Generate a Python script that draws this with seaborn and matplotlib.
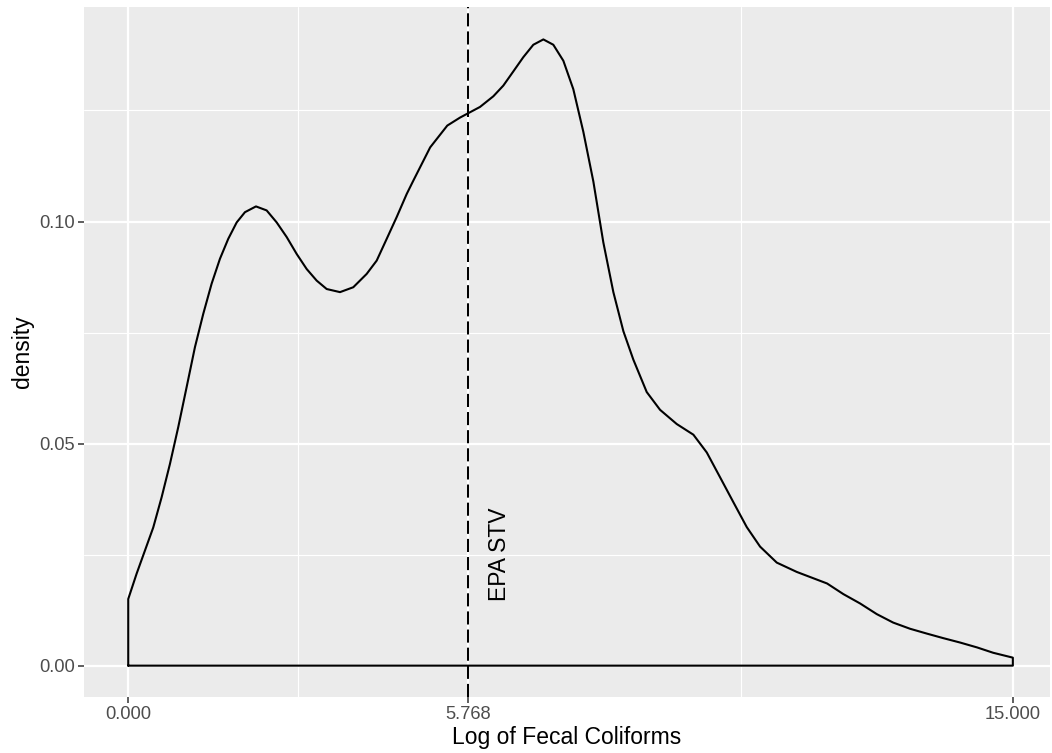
import pandas as pd
import matplotlib.pyplot as plt
from matplotlib.ticker import FixedLocator
import seaborn as sns

# density curve
log_fc = [0.000, 0.142, 0.283, 0.424, 0.566, 0.707, 0.848, 0.990, 1.131, 1.272,
          1.414, 1.555, 1.696, 1.839, 1.979, 2.166, 2.347, 2.517, 2.687, 2.856,
          3.026, 3.195, 3.365, 3.591, 3.816, 4.043, 4.213, 4.383, 4.552, 4.722,
          4.834, 5.120, 5.410, 5.626, 5.767, 5.965, 6.191, 6.360, 6.530, 6.699,
          6.869, 7.039, 7.208, 7.378, 7.547, 7.717, 7.887, 8.056, 8.226, 8.396,
          8.565, 8.792, 9.018, 9.301, 9.583, 9.810, 10.036, 10.261, 10.488, 10.714,
          10.997, 11.336, 11.850, 12.127, 12.410, 12.693, 12.970, 13.258, 13.546,
          13.818, 14.106, 14.394, 14.666, 15.000]
dens = [0.0150, 0.0207, 0.0259, 0.0311, 0.0379, 0.0454, 0.0537, 0.0627, 0.0717, 0.0792,
        0.0860, 0.0916, 0.0961, 0.0998, 0.1021, 0.1034, 0.1025, 0.0998, 0.0965, 0.0927,
        0.0893, 0.0867, 0.0848, 0.0841, 0.0852, 0.0882, 0.0912, 0.0961, 0.1010, 0.1062,
        0.1092, 0.1167, 0.1216, 0.1234, 0.1244, 0.1258, 0.1282, 0.1306, 0.1338, 0.1370,
        0.1398, 0.1410, 0.1398, 0.1362, 0.1298, 0.1202, 0.1090, 0.0953, 0.0841, 0.0753,
        0.0689, 0.0616, 0.0576, 0.0544, 0.0520, 0.0480, 0.0424, 0.0368, 0.0312, 0.0268,
        0.0232, 0.0211, 0.0185, 0.0161, 0.0140, 0.0116, 0.0097, 0.0083, 0.0072,
        0.0062, 0.0052, 0.0041, 0.0029, 0.0018]

epa_stv = 5.768
x_ticks = [0.0, 5.768, 15.0]
x_tick_labels = ["0.000", "5.768", "15.000"]
x_minor = [2.884, 10.384]
y_ticks = [0.00, 0.05, 0.10]
y_tick_labels = ["0.00", "0.05", "0.10"]
y_minor = [0.025, 0.075, 0.125]

sns.set_theme(style="darkgrid")
plt.rcParams['font.family'] = ['Liberation Sans', 'DejaVu Sans']

fig = plt.figure(figsize=(10.52, 7.53), dpi=100)
ax = fig.add_axes([84 / 1052, 1 - 697 / 753, (1050 - 84) / 1052, (697 - 7) / 753])
ax.set_facecolor("#EBEBEB")

# closed outline, the way geom_density draws it
outline = pd.DataFrame({
    "x": [log_fc[0]] + log_fc + [log_fc[-1], log_fc[0]],
    "y": [0.0] + dens + [0.0, 0.0],
})
sns.lineplot(data=outline, x="x", y="y", sort=False, estimator=None,
             color="black", lw=1.5, ax=ax, zorder=3,
             solid_joinstyle="round", solid_capstyle="round")

ax.axvline(epa_stv, color="black", lw=1.45, dashes=(6.5, 2.5), zorder=4)
ax.text(6.3, 0.025, "EPA STV", rotation=90, ha="center", va="center",
        fontsize=16.5, color="black")

ax.set_xlim(-0.75, 15.63)
ax.set_ylim(-0.00706, 0.1483)
ax.set_xticks(x_ticks)
ax.set_xticklabels(x_tick_labels)
ax.set_yticks(y_ticks)
ax.set_yticklabels(y_tick_labels)
ax.xaxis.set_minor_locator(FixedLocator(x_minor))
ax.yaxis.set_minor_locator(FixedLocator(y_minor))

ax.grid(which="major", color="white", lw=1.6)
ax.grid(which="minor", color="white", lw=0.8)
ax.set_axisbelow(True)
for s in ax.spines.values():
    s.set_visible(False)

ax.tick_params(which="major", length=4.1, width=1.1, color="#333333",
               labelcolor="#4D4D4D", labelsize=13.2, pad=2.5,
               bottom=True, left=True)
ax.tick_params(which="minor", length=0)

ax.set_xlabel("Log of Fecal Coliforms", fontsize=16.5, color="black", labelpad=2)
ax.set_ylabel("density", fontsize=16.5, color="black", labelpad=4)

fig.savefig("out.png", dpi=100, facecolor="white")
